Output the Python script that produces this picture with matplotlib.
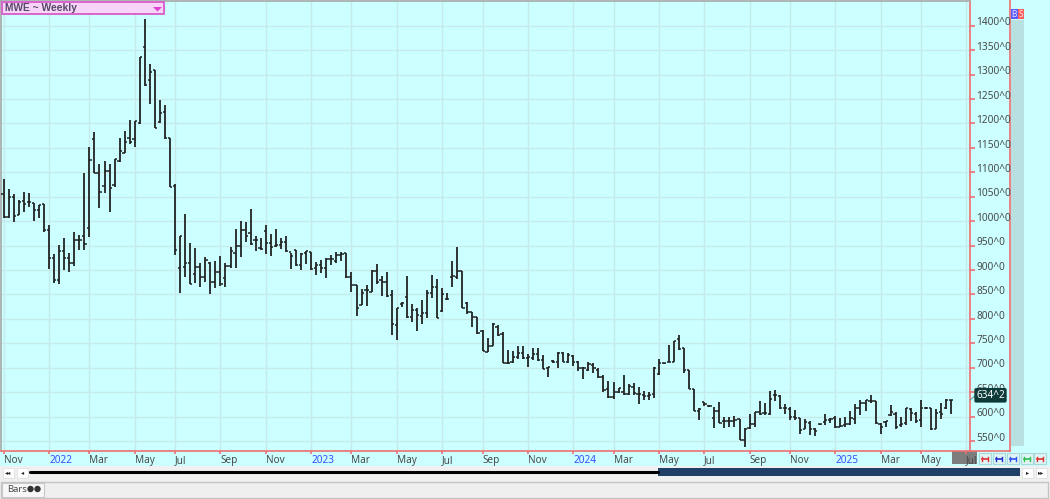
import matplotlib
matplotlib.use("Agg")
import numpy as np
import matplotlib.pyplot as plt
from matplotlib.patches import Rectangle, Circle, Polygon
from matplotlib.transforms import ScaledTranslation

plt.rcParams["font.family"] = ["Noto Sans", "DejaVu Sans"]

# weekly bars
opens = [1055, 1009, 1050, 1013, 1041, 1040, 1038, 1023, 1036, 982,
         924, 880, 938, 924, 914, 961, 970, 987, 1169, 1099,
         1071, 1103, 1075, 1123, 1140, 1171, 1168, 1200, 1356, 1289,
         1309, 1202, 1223, 1171, 1071, 905, 907, 915, 892, 907,
         886, 914, 875, 895, 883, 909, 934, 950, 982, 975,
         961, 946, 980, 955, 949, 951, 957, 936, 940, 910,
         934, 937, 905, 910, 905, 922, 919, 931, 934, 885,
         869, 828, 859, 856, 897, 880, 876, 849, 787, 830,
         845, 804, 819, 806, 813, 852, 865, 816, 840, 885,
         885, 897, 832, 815, 804, 776, 733, 744, 784, 770,
         709, 712, 723, 731, 719, 720, 729, 716, 699, 714,
         712, 731, 712, 724, 712, 699, 695, 705, 695, 682,
         656, 641, 650, 651, 646, 661, 646, 644, 643, 646,
         688, 709, 712, 712, 758, 740, 695, 656, 612, 629,
         622, 598, 612, 590, 592, 590, 595, 552, 576, 584,
         609, 608, 606, 644, 642, 617, 615, 600, 598, 574,
         586, 574, 584, 589, 593, 598, 579, 583, 585, 596,
         617, 627, 632, 632, 585, 589, 603, 606, 583, 586,
         615, 606, 593, 617, 617, 575, 609, 617, 635]
highs = [1086, 1065, 1055, 1043, 1060, 1057, 1038, 1033, 1036, 993,
         933, 951, 965, 934, 978, 972, 1099, 1152, 1183, 1117,
         1123, 1117, 1128, 1170, 1185, 1208, 1205, 1335, 1413, 1322,
         1309, 1248, 1238, 1171, 1077, 970, 1014, 956, 946, 914,
         927, 917, 918, 929, 914, 948, 983, 1001, 998, 1024,
         970, 965, 993, 973, 983, 965, 970, 935, 940, 934,
         939, 937, 917, 920, 924, 931, 936, 936, 934, 895,
         869, 861, 869, 900, 912, 888, 895, 859, 823, 835,
         888, 830, 822, 839, 860, 890, 881, 864, 852, 919,
         948, 897, 835, 815, 804, 777, 760, 791, 787, 774,
         736, 735, 745, 745, 729, 740, 740, 726, 702, 716,
         733, 733, 731, 726, 714, 702, 711, 709, 699, 685,
         673, 670, 659, 686, 667, 668, 661, 653, 651, 702,
         718, 710, 746, 755, 768, 740, 695, 656, 617, 630,
         623, 620, 629, 600, 600, 601, 595, 576, 606, 609,
         632, 627, 653, 654, 644, 625, 619, 613, 598, 596,
         591, 576, 585, 606, 598, 602, 598, 600, 612, 625,
         635, 635, 644, 632, 586, 591, 624, 610, 600, 618,
         617, 610, 634, 619, 618, 615, 627, 637, 635]
lows = [1006, 1006, 999, 1013, 1019, 1028, 1001, 1007, 978, 903,
        874, 871, 901, 895, 908, 940, 942, 968, 1099, 1026,
        1058, 1019, 1069, 1122, 1139, 1157, 1152, 1199, 1277, 1239,
        1190, 1200, 1168, 1069, 931, 852, 886, 871, 873, 865,
        876, 850, 864, 868, 865, 905, 905, 927, 957, 951,
        938, 941, 932, 929, 948, 944, 937, 903, 909, 900,
        912, 900, 890, 893, 884, 910, 915, 918, 884, 854,
        806, 828, 827, 854, 871, 847, 845, 766, 757, 824,
        802, 793, 775, 790, 801, 842, 801, 815, 839, 865,
        881, 822, 810, 784, 770, 734, 733, 744, 764, 709,
        708, 710, 717, 717, 702, 716, 714, 697, 682, 709,
        700, 711, 710, 703, 693, 677, 693, 690, 680, 651,
        639, 637, 648, 644, 644, 645, 625, 633, 633, 639,
        685, 708, 711, 711, 736, 690, 656, 611, 594, 622,
        620, 576, 587, 576, 578, 578, 552, 537, 574, 579,
        604, 604, 604, 632, 615, 606, 594, 594, 564, 574,
        562, 560, 583, 583, 587, 576, 578, 579, 583, 585,
        603, 612, 627, 585, 564, 579, 601, 574, 579, 583,
        590, 587, 578, 616, 572, 574, 595, 615, 606]
closes = [1009, 1050, 1010, 1040, 1036, 1040, 1023, 1033, 982, 924,
          880, 938, 924, 914, 961, 961, 953, 1125, 1099, 1060,
          1103, 1067, 1128, 1144, 1161, 1161, 1205, 1335, 1279, 1305,
          1191, 1222, 1170, 1069, 941, 970, 915, 871, 907, 886,
          920, 875, 895, 871, 909, 938, 950, 982, 970, 953,
          961, 944, 955, 948, 951, 957, 939, 929, 910, 932,
          939, 902, 910, 905, 922, 922, 931, 933, 885, 869,
          822, 852, 859, 897, 876, 876, 847, 789, 822, 832,
          804, 819, 808, 813, 852, 865, 802, 851, 840, 888,
          897, 823, 815, 803, 772, 734, 744, 790, 767, 709,
          709, 723, 731, 719, 721, 729, 716, 697, 702, 712,
          731, 712, 726, 712, 700, 699, 707, 699, 682, 654,
          641, 650, 658, 646, 663, 648, 646, 643, 644, 700,
          709, 709, 712, 755, 738, 695, 656, 612, 615, 626,
          622, 612, 587, 590, 592, 594, 553, 574, 584, 609,
          606, 608, 637, 644, 617, 617, 600, 598, 572, 589,
          574, 570, 584, 593, 595, 578, 581, 585, 598, 617,
          627, 634, 632, 586, 579, 590, 610, 579, 585, 617,
          608, 592, 618, 617, 574, 608, 606, 635, 634.25]

y_ticks = list(range(550, 1401, 50))
x_tick_bars = [0, 9, 17, 26, 34, 43, 52, 61, 69, 78, 87, 95, 104, 113, 121,
               130, 139, 148, 156, 165, 174, 182, 191]
x_tick_labels = ["Nov", "2022", "Mar", "May", "Jul", "Sep", "Nov", "2023", "Mar", "May",
                 "Jul", "Sep", "Nov", "2024", "Mar", "May", "Jul", "Sep", "Nov", "2025",
                 "Mar", "May", "Jul"]

W, H = 1050, 499
CYAN = "#ccffff"
RED = "#ee6f6f"
GRID = "#c6eaea"
TXT = "#4a4a4a"


def frac(left, top, right, bottom):
    return [left / W, 1 - bottom / H, (right - left) / W, (bottom - top) / H]


fig = plt.figure(figsize=(W / 100, H / 100), dpi=100, facecolor=CYAN)

# window furniture, drawn in pixel coordinates underneath the chart
chrome = fig.add_axes([0, 0, 1, 1], zorder=-1)
chrome.set_xlim(0, W)
chrome.set_ylim(H, 0)
chrome.axis("off")


def box(x0, y0, x1, y1, **kw):
    chrome.add_patch(Rectangle((x0, y0), x1 - x0, y1 - y0, **kw))


box(0, 466, W, H, fc="#f0f0f0", ec="none")
box(952, 451, 977, 464, fc="#7d7d7d", ec="none")
box(1011, 20, 1024, 446, fc="#b9e0e0", ec="none")
box(1011, 9, 1017.5, 19, fc="#5a5aff", ec="none")
box(1017.5, 9, 1024, 19, fc="#ff6060", ec="none")
chrome.text(1014.2, 14, "B", color="#dfe4ff", fontsize=6, ha="center", va="center")
chrome.text(1020.8, 14, "S", color="#ffe0e0", fontsize=6, ha="center", va="center")
chrome.plot([1010, 1010], [0, 451], color=RED, lw=1.2)
chrome.plot([969, 1010], [451, 451], color=RED, lw=1.2)

for x0, col in zip([979, 993, 1007, 1021, 1034], ["#e03030", "#2030d0", "#3050f0", "#30c050", "#e03030"]):
    box(x0, 453, x0 + 12, 464, fc="#dff5f5", ec="#a8d8d8", lw=0.8)
    chrome.plot([x0 + 3, x0 + 9], [459, 459], color=col, lw=1.2)
    chrome.plot([x0 + 3, x0 + 3], [457, 461], color=col, lw=1.0)
    chrome.plot([x0 + 9, x0 + 9], [457, 461], color=col, lw=1.0)

# scrollbar and tab strip
for x0, mark in zip([3, 17, 1022, 1036], ["\u25c2\u25c2", "\u25c2", "\u25b8", "\u25b8\u25b8"]):
    box(x0, 468, x0 + 11, 478, fc="white", ec="#e0e0e0", lw=0.6)
    chrome.text(x0 + 5.5, 473, mark, fontsize=4.5, color="#222222", ha="center", va="center",
                family="DejaVu Sans")
chrome.plot([30, 658], [471.5, 471.5], color="black", lw=2.2, solid_capstyle="round")
box(658, 468, 1020, 476, fc="#1f3f66", ec="none")
box(1, 482, 1048, 498, fc="#efefef", ec="#c4c4c4", lw=1)
box(2, 483, 44, 497, fc="#f7f7f7", ec="#c8c8c8", lw=0.8)
chrome.text(7, 490, "Bars", fontsize=6.8, color=TXT, va="center")
chrome.add_patch(Circle((30.5, 489), 3.2, fc="#333333", ec="none"))
chrome.add_patch(Circle((37.5, 489), 3.2, fc="#333333", ec="none"))

# chart, bar i sits at pixel 3.7 + 5.04 * i
ax = fig.add_axes(frac(1, 1, 969.7, 451), facecolor=CYAN)
ax.set_xlim(-0.54, 191.67)
ax.set_ylim(529.6, 1450.6)

bars = np.arange(len(closes))
ax.vlines(bars, lows, highs, color="#222222", lw=1.3, zorder=3)
ax.hlines(opens, bars - 0.45, bars, color="#222222", lw=1.1, zorder=3)
ax.hlines(closes, bars, bars + 0.45, color="#222222", lw=1.1, zorder=3)

ax.set_yticks(y_ticks)
ax.set_yticklabels([])
ax.set_xticks(x_tick_bars)
ax.set_xticklabels(x_tick_labels, fontsize=7.2, color=TXT)
nudge = ScaledTranslation(-1.5 / 100, 0, fig.dpi_scale_trans)
for label, text in zip(ax.get_xticklabels(), x_tick_labels):
    label.set_ha("left")
    label.set_transform(label.get_transform() + nudge)
    if text.isdigit():
        label.set_color("#3a4dff")
ax.grid(True, color=GRID, lw=1.0, zorder=0)
ax.set_axisbelow(True)
ax.tick_params(axis="y", left=False, right=True, color=RED, length=3.5, width=1.2)
ax.tick_params(axis="x", color=RED, length=2.5, width=1.2, pad=0.5)

for side in ["top", "left"]:
    ax.spines[side].set_color("#a8a8a8")
    ax.spines[side].set_linewidth(1.2)
for side in ["right", "bottom"]:
    ax.spines[side].set_color(RED)
    ax.spines[side].set_linewidth(1.2)

for p in y_ticks:
    ax.annotate(f"{p}^0", xy=(1, p), xycoords=("axes fraction", "data"),
                xytext=(4.9, 2.0), textcoords="offset points",
                fontsize=7.3, color=TXT, va="center", annotation_clip=False)

# things that sit on top of the chart
ov = chrome.transData
ax.plot([970, 976], [400, 395], color="#6a9a9a", lw=0.8, transform=ov, clip_on=False, zorder=5)
ax.text(990.5, 395.3, "634^2", transform=ov, fontsize=7.2, color="white", ha="center", va="center",
        clip_on=False, zorder=6,
        bbox=dict(boxstyle="round,pad=0.18", fc="#0f3a3a", ec="none"))
ax.add_patch(Rectangle((2, 2), 162, 12, transform=ov, fc="#f8d4f8", ec="#d966cc", lw=1.4,
                       clip_on=False, zorder=6))
ax.add_patch(Polygon([(153, 7), (162, 7), (157.5, 11.5)], transform=ov, fc="#e040d0", ec="none",
                     clip_on=False, zorder=7))
ax.text(5, 8.3, "MWE ~ Weekly", transform=ov, fontsize=7.4, fontweight="bold", family="Liberation Sans",
        color="#55486a", va="center", clip_on=False, zorder=7)

fig.savefig("out.png", dpi=100, facecolor=CYAN)
